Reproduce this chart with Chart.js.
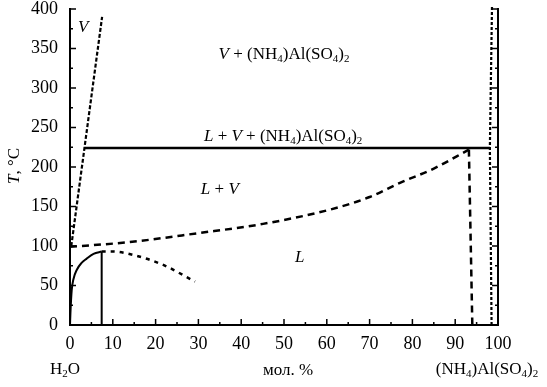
<!DOCTYPE html>
<html>
<head>
<meta charset="utf-8">
<script src="https://cdn.jsdelivr.net/npm/chart.js@4"></script>
<style>
html, body { margin: 0; padding: 0; background: #fff; }
#wrap { width: 547px; height: 387px; }
</style>
</head>
<body>
<div id="wrap"><canvas id="phaseChart"></canvas></div>
<script>
// axis ranges / ticks
let xMin = 0, xMax = 100, xStep = 5
let yMin = 0, yMax = 400, yStep = 25

// vapour boundary (V) - dotted line from the water side
let vapourX = [0.3, 7.5]
let vapourY = [100, 390]

// three-phase line L + V + salt
let eutecticX = [3.4, 98.1]
let eutecticY = [224, 224]

// salt side, nearly vertical dotted line
let saltX = [98.5, 98.1, 98.6]
let saltY = [0, 224, 404]

// L / L+V boundary (dashed)
let liquidX = [0, 14, 29.6, 45.1, 60.7, 70, 77.1, 85, 93.2]
let liquidY = [99, 105, 116, 128, 146, 162, 180, 198, 222]

// dashed drop from the top of that curve
let dropX = [93.2, 94]
let dropY = [222, 0]

// solid curve near water
let solidX = [0, 0.1, 0.4, 0.8, 1.6, 2.6, 3.9, 5.5, 7.4]
let solidY = [0, 15, 44, 58, 70, 78, 84, 90, 93]

// solid vertical at the curve's top
let stickX = [7.4, 7.4]
let stickY = [0, 93]

// dotted curve going down to the right
let fallX = [7.4, 10, 14.8, 21.8, 29.2]
let fallY = [93, 93, 88.6, 76, 55]

function pts(xs, ys) {
    return xs.map((x, i) => ({ x: x, y: ys[i] }))
}

function line(xs, ys, dash, width, smooth) {
    return {
        data: pts(xs, ys),
        showLine: true,
        borderColor: "#000",
        borderWidth: width,
        borderDash: dash,
        pointRadius: 0,
        fill: false,
        clip: 6,
        cubicInterpolationMode: smooth ? "monotone" : "default",
        tension: 0
    }
}

// rich text labels: i = italic, s = subscript
let sub4 = { t: "4", s: true }
let sub2 = { t: "2", s: true }
let saltText = [{ t: "(NH" }, sub4, { t: ")Al(SO" }, sub4, { t: ")" }, sub2]

let fieldLabels = [
    { x: 3.1, y: 376, segs: [{ t: "V", i: true }] },
    { x: 50, y: 342, segs: [{ t: "V", i: true }, { t: " + " }].concat(saltText) },
    { x: 49.8, y: 238, segs: [{ t: "L", i: true }, { t: " + " }, { t: "V", i: true }, { t: " + " }].concat(saltText) },
    { x: 35, y: 171, segs: [{ t: "L", i: true }, { t: " + " }, { t: "V", i: true }] },
    { x: 53.7, y: 86, segs: [{ t: "L", i: true }] }
]

let fontName = "'Liberation Serif', 'Times New Roman', serif"

function segFont(seg, size) {
    let sz = seg.s ? Math.round(size * 0.65) : size
    return (seg.i ? "italic " : "") + sz + "px " + fontName
}

function drawRich(ctx, segs, cx, cy, size) {
    let total = 0
    segs.forEach(seg => {
        ctx.font = segFont(seg, size)
        total += ctx.measureText(seg.t).width
    })
    let x = cx - total / 2
    ctx.textBaseline = "middle"
    ctx.textAlign = "left"
    segs.forEach(seg => {
        ctx.font = segFont(seg, size)
        ctx.fillText(seg.t, x, seg.s ? cy + 4 : cy)
        x += ctx.measureText(seg.t).width
    })
}

let extras = {
    id: "extras",
    afterDraw(chart) {
        let ctx = chart.ctx
        let xs = chart.scales.x, ys = chart.scales.y
        let area = chart.chartArea
        ctx.save()
        ctx.strokeStyle = "#000"
        ctx.lineWidth = 1.5
        ctx.beginPath()
        // inner ticks on the bottom axis
        for (let v = xMin; v <= xMax; v += xStep) {
            let px = xs.getPixelForValue(v)
            let len = v % 10 === 0 ? 6 : 3
            ctx.moveTo(px, area.bottom)
            ctx.lineTo(px, area.bottom - len)
        }
        // inner ticks on left and right axes
        for (let v = yMin; v <= yMax; v += yStep) {
            let py = ys.getPixelForValue(v)
            let len = v % 50 === 0 ? 6 : 3
            ctx.moveTo(area.left, py)
            ctx.lineTo(area.left + len, py)
            ctx.moveTo(area.right, py)
            ctx.lineTo(area.right - len, py)
        }
        ctx.stroke()

        ctx.fillStyle = "#000"
        fieldLabels.forEach(l => {
            drawRich(ctx, l.segs, xs.getPixelForValue(l.x), ys.getPixelForValue(l.y), 17)
        })

        // bottom captions
        drawRich(ctx, [{ t: "H" }, sub2, { t: "O" }], 65, 370, 17)
        drawRich(ctx, [{ t: "мол. %" }], 288, 371, 17)
        drawRich(ctx, saltText, 487, 370, 17)

        // y axis title
        ctx.translate(15, 166)
        ctx.rotate(-Math.PI / 2)
        drawRich(ctx, [{ t: "T", i: true }, { t: ", °C" }], 0, 0, 17)
        ctx.restore()
    }
}

Chart.defaults.font.family = fontName
Chart.defaults.font.size = 18
Chart.defaults.color = "#000"

let myChart = document.getElementById("phaseChart").getContext("2d")
let chart = new Chart(myChart, {
    type: "scatter",
    data: {
        datasets: [
            line(vapourX, vapourY, [4, 2], 2.2, false),
            line(eutecticX, eutecticY, [], 2.5, false),
            line(saltX, saltY, [3, 2], 2.2, false),
            line(liquidX, liquidY, [7, 5], 2.5, true),
            line(dropX, dropY, [7, 5], 2.5, false),
            line(solidX, solidY, [], 2, true),
            line(stickX, stickY, [], 2, false),
            line(fallX, fallY, [4, 5], 2.5, true)
        ]
    },
    options: {
        responsive: true,
        maintainAspectRatio: false,
        animation: false,
        layout: { padding: { left: 0, right: 49, top: 9, bottom: 0 } },
        plugins: {
            legend: { display: false },
            tooltip: { enabled: false }
        },
        scales: {
            x: {
                type: "linear",
                min: xMin,
                max: xMax,
                grid: { display: false, drawTicks: false },
                border: { display: true, color: "#000", width: 2 },
                ticks: {
                    stepSize: xStep,
                    padding: 8,
                    maxRotation: 0,
                    autoSkip: false,
                    callback: v => (v % 10 === 0 ? v : "")
                },
                afterFit: s => { s.height = 62; s.paddingLeft = 0; s.paddingRight = 0 }
            },
            y: {
                type: "linear",
                min: yMin,
                max: yMax,
                grid: { display: false, drawTicks: false },
                border: { display: true, color: "#000", width: 2 },
                ticks: {
                    stepSize: yStep,
                    padding: 12,
                    autoSkip: false,
                    callback: v => (v % 50 === 0 ? v : "")
                },
                afterFit: s => { s.width = 70; s.paddingTop = 0; s.paddingBottom = 0 }
            },
            y2: {
                type: "linear",
                position: "right",
                min: yMin,
                max: yMax,
                grid: { display: false, drawTicks: false },
                border: { display: true, color: "#000", width: 2 },
                ticks: { display: false },
                afterFit: s => { s.width = 0; s.paddingTop = 0; s.paddingBottom = 0 }
            }
        }
    },
    plugins: [extras]
})
</script>
</body>
</html>
